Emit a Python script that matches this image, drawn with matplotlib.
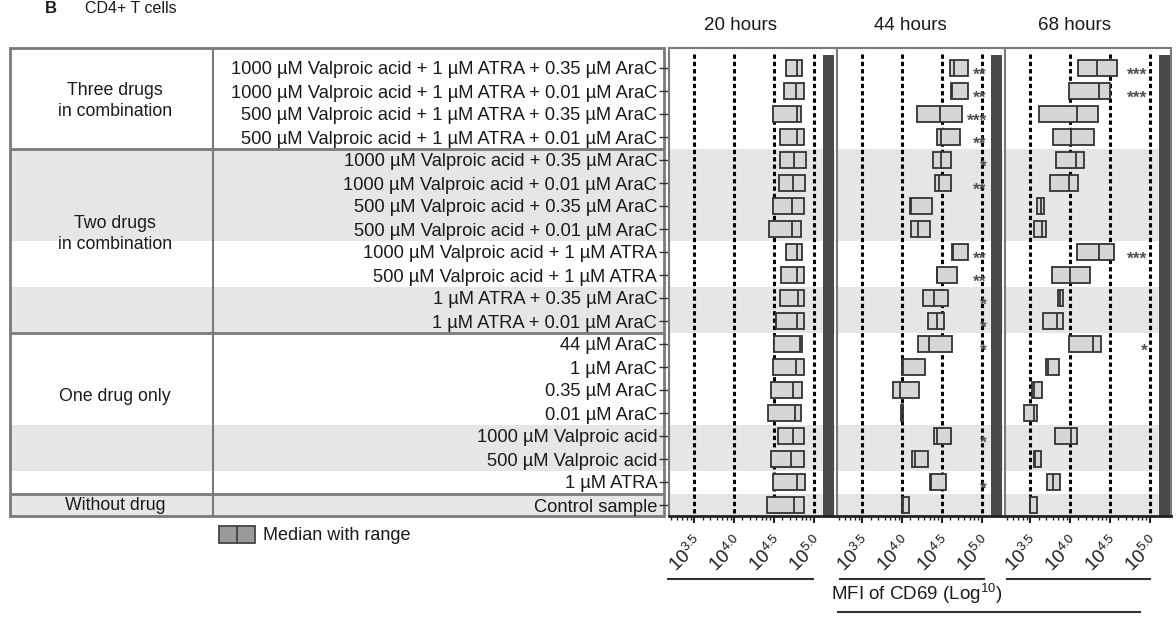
import matplotlib
matplotlib.use("Agg")
import matplotlib.pyplot as plt
from matplotlib.patches import Rectangle
from matplotlib.lines import Line2D

plt.rcParams['font.family'] = ['Liberation Sans', 'DejaVu Sans']
plt.rcParams['mathtext.fontset'] = 'custom'
plt.rcParams['mathtext.rm'] = 'Liberation Sans'
plt.rcParams['mathtext.it'] = 'Liberation Sans:italic'

# ---------------- data (log10 MFI of CD69) ----------------
labels = [
    "1000 µM Valproic acid + 1 µM ATRA + 0.35 µM AraC",
    "1000 µM Valproic acid + 1 µM ATRA + 0.01 µM AraC",
    "500 µM Valproic acid + 1 µM ATRA + 0.35 µM AraC",
    "500 µM Valproic acid + 1 µM ATRA + 0.01 µM AraC",
    "1000 µM Valproic acid + 0.35 µM AraC",
    "1000 µM Valproic acid + 0.01 µM AraC",
    "500 µM Valproic acid + 0.35 µM AraC",
    "500 µM Valproic acid + 0.01 µM AraC",
    "1000 µM Valproic acid + 1 µM ATRA",
    "500 µM Valproic acid + 1 µM ATRA",
    "1 µM ATRA + 0.35 µM AraC",
    "1 µM ATRA + 0.01 µM AraC",
    "44 µM AraC",
    "1 µM AraC",
    "0.35 µM AraC",
    "0.01 µM AraC",
    "1000 µM Valproic acid",
    "500 µM Valproic acid",
    "1 µM ATRA",
    "Control sample",
]
groups = ["Three drugs\nin combination", "Two drugs\nin combination",
          "One drug only", "Without drug"]
times = ["20 hours", "44 hours", "68 hours"]

h20_min = [4.65, 4.63, 4.48, 4.58, 4.58, 4.56, 4.48, 4.44, 4.65, 4.59,
           4.58, 4.52, 4.50, 4.48, 4.46, 4.42, 4.55, 4.46, 4.48, 4.41]
h20_max = [4.85, 4.88, 4.84, 4.88, 4.90, 4.89, 4.88, 4.84, 4.85, 4.87,
           4.88, 4.88, 4.85, 4.87, 4.85, 4.84, 4.88, 4.87, 4.89, 4.88]
h20_med = [4.79, 4.77, 4.79, 4.79, 4.75, 4.74, 4.72, 4.72, 4.79, 4.79,
           4.80, 4.79, 4.83, 4.77, 4.74, 4.76, 4.74, 4.71, 4.79, 4.75]

h44_min = [4.60, 4.61, 4.18, 4.44, 4.38, 4.41, 4.10, 4.11, 4.63, 4.43,
           4.26, 4.32, 4.20, 4.00, 3.88, 3.99, 4.40, 4.12, 4.35, 4.00]
h44_max = [4.82, 4.82, 4.75, 4.72, 4.61, 4.61, 4.37, 4.35, 4.83, 4.69,
           4.57, 4.53, 4.62, 4.28, 4.21, 4.01, 4.61, 4.32, 4.55, 4.09]
h44_med = [4.65, 4.62, 4.47, 4.48, 4.48, 4.46, 4.11, 4.20, 4.64, 4.44,
           4.40, 4.43, 4.33, 4.01, 3.97, 4.00, 4.44, 4.16, 4.36, 4.01]

h68_min = [4.10, 3.98, 3.61, 3.78, 3.82, 3.75, 3.58, 3.55, 4.08, 3.77,
           3.85, 3.66, 3.98, 3.70, 3.52, 3.42, 3.81, 3.54, 3.71, 3.49]
h68_max = [4.59, 4.50, 4.35, 4.30, 4.17, 4.10, 3.67, 3.69, 4.55, 4.25,
           3.91, 3.91, 4.39, 3.86, 3.64, 3.58, 4.09, 3.63, 3.87, 3.58]
h68_med = [4.34, 4.36, 4.08, 4.01, 4.07, 3.98, 3.63, 3.64, 4.36, 4.00,
           3.87, 3.83, 4.28, 3.72, 3.55, 3.54, 4.01, 3.56, 3.78, 3.50]

h20_stars = [""] * 20
h44_stars = ["**", "**", "***", "**", "*", "**", "", "", "**", "**",
             "*", "*", "*", "", "", "", "*", "", "*", ""]
h68_stars = ["***", "***", "", "", "", "", "", "", "***", "",
             "", "", "*", "", "", "", "", "", "", ""]

major_ticks = [3.5, 4.0, 4.5, 5.0]
major_labels = [r"$10^{3.5}$", r"$10^{4.0}$", r"$10^{4.5}$", r"$10^{5.0}$"]
minor_offsets = [0.102, 0.199, 0.278, 0.345, 0.403, 0.454]

shaded_rows = [4, 5, 6, 7, 10, 11, 16, 17, 19]

# ---------------- layout ----------------
W, H = 1176, 625
fig = plt.figure(figsize=(W / 100, H / 100), dpi=100)

TOP, BOT = 48, 516
ROW0, ROWH = 68, 23.0
ylim = ((BOT - ROW0) / ROWH, (TOP - ROW0) / ROWH)

def rect(x0, x1):
    return [x0 / W, 1 - BOT / H, (x1 - x0) / W, (BOT - TOP) / H]

BAND = "#e6e6e6"
FRAME = "#7a7a7a"
TXT = "#1a1a1a"
FS = 13.2

# table axes
axt = fig.add_axes(rect(10, 664))
axt.set_xlim(10, 664)
axt.set_ylim(*ylim)
axt.axis("off")
for r in shaded_rows:
    axt.axhspan(r - 0.5, r + 0.5, color=BAND, lw=0, zorder=0)
axt.add_patch(Rectangle((10, ylim[1]), 654, ylim[0] - ylim[1], fill=False,
                        ec=FRAME, lw=2, zorder=3, clip_on=False))
axt.plot([213, 213], [ylim[1], ylim[0]], color=FRAME, lw=1.5, zorder=3)
for b in [3.5, 11.5, 18.5]:
    axt.plot([10, 664], [b, b], color=FRAME, lw=2, zorder=3)
group_y = [1.45, 7.2, 14.3, 19.0]
for g, gy in zip(groups, group_y):
    axt.text(115, gy, g, ha="center", va="center", fontsize=12.8,
             color=TXT, linespacing=1.3)

# panels
panels = [(669, 835), (837, 1003), (1005, 1171)]
data = [(h20_min, h20_max, h20_med, h20_stars),
        (h44_min, h44_max, h44_med, h44_stars),
        (h68_min, h68_max, h68_med, h68_stars)]
star_x = [5.06, 5.06, 4.97]
xlim = (3.18, 5.265)
for k, ((x0, x1), (mn, mx, md, st)) in enumerate(zip(panels, data)):
    ax = fig.add_axes(rect(x0, x1))
    ax.set_xlim(*xlim)
    ax.set_ylim(*ylim)
    for r in shaded_rows:
        ax.axhspan(r - 0.5, r + 0.5, color=BAND, lw=0, zorder=0)
    ax.vlines(major_ticks, -0.62, ylim[0], colors="black", lw=2.2,
              linestyles=(0, (1.4, 1.0)), zorder=1)
    ax.axvspan(5.11, 5.25, ymin=0, ymax=(ylim[0] + 0.57) / (ylim[0] - ylim[1]),
               color="#4a4a4a", lw=0, zorder=2)
    ys = list(range(len(labels)))
    widths = [b - a for a, b in zip(mn, mx)]
    ax.barh(ys, widths, left=mn, height=0.66, color="#d6d6d6",
            edgecolor="#333333", lw=1.3, zorder=3)
    ax.vlines(md, [y - 0.33 for y in ys], [y + 0.33 for y in ys],
              colors="#333333", lw=1.3, zorder=4)
    for y, s in zip(ys, st):
        if s:
            ax.text(star_x[k], y + 0.3, s, ha="right", va="center",
                    fontsize=12.5, fontweight="bold", color="#505050",
                    zorder=5)
    ax.set_xticks(major_ticks)
    ax.set_xticklabels(major_labels, rotation=45, ha="right", va="top",
                       rotation_mode="anchor", fontsize=13.5, color=TXT)
    minors = [a + o for a in [3.0, 3.5, 4.0, 4.5] for o in minor_offsets
              if xlim[0] < a + o < 5.0]
    ax.set_xticks(minors, minor=True)
    ax.tick_params(axis="x", which="major", length=5, width=1.5,
                   color="#222222", pad=7)
    ax.tick_params(axis="x", which="minor", length=3, width=1.0,
                   color="#222222")
    for s in ["top", "left", "right"]:
        ax.spines[s].set_color(FRAME)
        ax.spines[s].set_linewidth(1.5)
    ax.spines["bottom"].set_color("#222222")
    ax.spines["bottom"].set_linewidth(2)
    if k < 2:
        ax.spines["right"].set_visible(False)
    if k == 0:
        ax.set_yticks(ys)
        ax.set_yticklabels(labels, fontsize=FS, color=TXT)
        ax.tick_params(axis="y", length=7, width=1.0, color="#333333",
                       pad=1.5)
    else:
        ax.set_yticks([])

# headers
for t, x in zip(times, [740, 910, 1075]):
    fig.text(x / W, 1 - 25 / H, t, ha="center", va="center", fontsize=13.5,
             color=TXT)

# panel title
fig.text(45 / W, 1 - 1 / H, "B", ha="left", va="top", fontsize=12,
         fontweight="bold", color=TXT)
fig.text(85 / W, 1 - 1 / H, "CD4+ T cells", ha="left", va="top",
         fontsize=11.5, color=TXT)

# legend
fig.add_artist(Rectangle((219 / W, 1 - 543 / H), 36 / W, 17 / H,
                         transform=fig.transFigure, fc="#9a9a9a",
                         ec="#444444", lw=1.3))
fig.add_artist(Line2D([237 / W, 237 / W], [1 - 543 / H, 1 - 526 / H],
                      transform=fig.transFigure, color="#444444", lw=1.3))
fig.text(263 / W, 1 - 535 / H, "Median with range", ha="left",
         va="center", fontsize=13, color=TXT)

# bottom brackets and axis title
for x0, x1 in [(668, 813), (840, 984), (1007, 1150)]:
    fig.add_artist(Line2D([x0 / W, x1 / W], [1 - 579 / H, 1 - 579 / H],
                          transform=fig.transFigure, color="#333333",
                          lw=1.5))
fig.text(917 / W, 1 - 594 / H, r"MFI of CD69 (Log$^{10}$)", ha="center",
         va="center", fontsize=13.5, color=TXT)
fig.add_artist(Line2D([838 / W, 1140 / W], [1 - 612 / H, 1 - 612 / H],
                      transform=fig.transFigure, color="#333333", lw=1.5))

fig.savefig("out.png", dpi=100)
